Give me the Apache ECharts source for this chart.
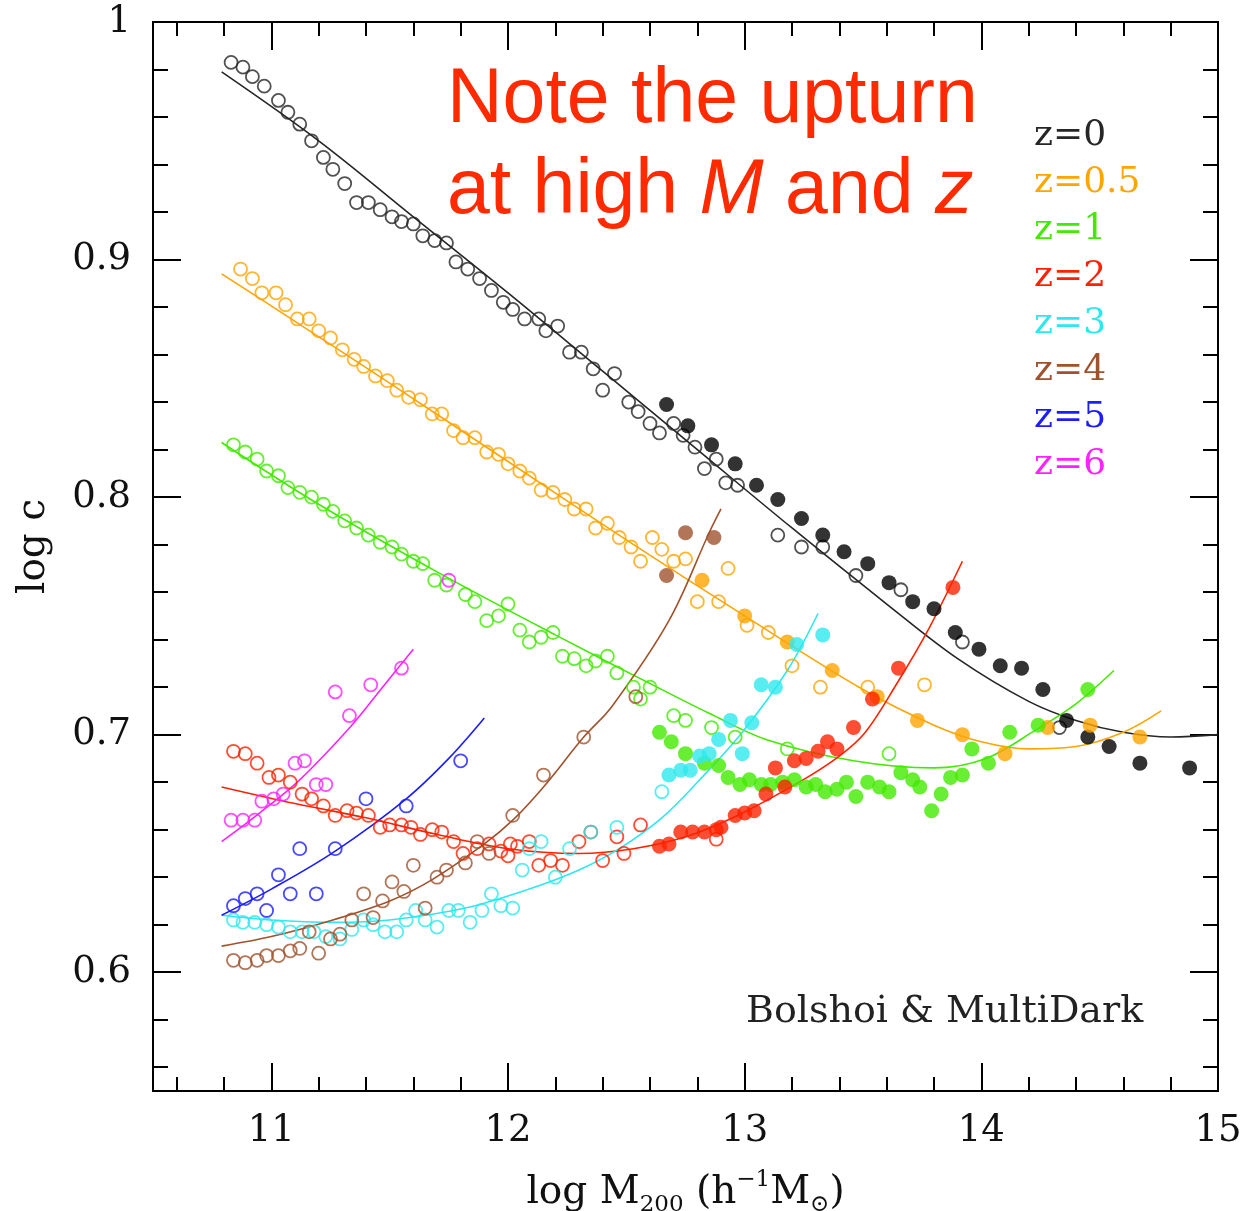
<!DOCTYPE html>
<html>
<head>
<meta charset="utf-8">
<script src="https://cdn.jsdelivr.net/npm/echarts@6/dist/echarts.min.js"></script>
<style>
  html, body { margin: 0; padding: 0; background: #ffffff; }
  #chart { width: 1250px; height: 1211px; }
</style>
</head>
<body>
<div id="chart"></div>
<script>
// Concentration–mass relation, log c versus log M200, for redshifts z = 0 ... 6.
// Open circles: Bolshoi haloes; filled circles: MultiDark haloes; lines: fits.

// ---- axis ticks ----
const xTickValues = [11, 12, 13, 14, 15];
const xTickLabels = ['11', '12', '13', '14', '15'];
const yTickValues = [0.6, 0.7, 0.8, 0.9, 1.0];
const yTickLabels = ['0.6', '0.7', '0.8', '0.9', '1'];

// ---- z = 0 ----
const z0Open = [[10.83,0.983],[10.88,0.981],[10.92,0.977],[10.97,0.973],[11.03,0.967],[11.07,0.962],[11.12,0.957],[11.17,0.950],[11.22,0.943],[11.26,0.938],[11.31,0.932],[11.36,0.924],[11.41,0.924],[11.46,0.921],[11.51,0.918],[11.55,0.916],[11.60,0.915],[11.64,0.910],[11.69,0.908],[11.74,0.907],[11.78,0.899],[11.83,0.896],[11.88,0.892],[11.93,0.887],[11.98,0.882],[12.02,0.879],[12.07,0.875],[12.13,0.875],[12.16,0.870],[12.21,0.872],[12.26,0.861],[12.31,0.861],[12.36,0.854],[12.40,0.845],[12.45,0.852],[12.51,0.840],[12.55,0.836],[12.60,0.831],[12.64,0.827],[12.70,0.831],[12.74,0.826],[12.79,0.821],[12.83,0.812],[12.88,0.816],[12.92,0.806],[12.97,0.805],[13.14,0.784],[13.24,0.779],[13.33,0.779],[13.47,0.767],[13.66,0.761],[13.92,0.739],[14.33,0.703]];
const z0Filled = [[12.67,0.839],[12.76,0.830],[12.86,0.822],[12.96,0.814],[13.05,0.805],[13.14,0.799],[13.24,0.791],[13.33,0.784],[13.42,0.777],[13.52,0.772],[13.61,0.764],[13.71,0.756],[13.80,0.753],[13.89,0.743],[13.99,0.736],[14.08,0.729],[14.17,0.728],[14.26,0.719],[14.36,0.706],[14.45,0.699],[14.54,0.695],[14.67,0.688],[14.88,0.686]];
const z0Fit = [[10.79,0.979],[11.2,0.950],[11.6,0.918],[12.0,0.886],[12.4,0.853],[12.8,0.820],[13.2,0.787],[13.6,0.755],[13.9,0.732],[14.2,0.714],[14.4,0.706],[14.6,0.701],[14.8,0.699],[15.0,0.700]];

// ---- z = 0.5 ----
const z05Open = [[10.87,0.896],[10.92,0.892],[10.96,0.886],[11.02,0.886],[11.06,0.881],[11.11,0.875],[11.16,0.875],[11.20,0.870],[11.25,0.867],[11.30,0.862],[11.35,0.858],[11.39,0.855],[11.44,0.851],[11.49,0.849],[11.53,0.845],[11.58,0.842],[11.63,0.841],[11.68,0.835],[11.72,0.835],[11.77,0.828],[11.81,0.825],[11.86,0.825],[11.91,0.819],[11.96,0.818],[12.00,0.814],[12.05,0.811],[12.09,0.808],[12.14,0.803],[12.19,0.802],[12.24,0.799],[12.28,0.795],[12.33,0.795],[12.37,0.787],[12.42,0.789],[12.47,0.783],[12.52,0.779],[12.56,0.773],[12.61,0.783],[12.65,0.778],[12.70,0.773],[12.75,0.774],[12.80,0.756],[12.89,0.756],[12.93,0.770],[13.01,0.746],[13.10,0.743],[13.20,0.729],[13.32,0.720],[13.52,0.720],[13.76,0.721]];
const z05Filled = [[12.82,0.765],[13.00,0.750],[13.18,0.739],[13.37,0.727],[13.56,0.716],[13.73,0.706],[13.92,0.700],[14.10,0.692],[14.28,0.703],[14.46,0.704],[14.67,0.699]];
const z05Fit = [[10.79,0.894],[11.1,0.874],[11.5,0.848],[12.0,0.815],[12.5,0.782],[13.0,0.750],[13.5,0.719],[13.8,0.704],[14.0,0.697],[14.2,0.694],[14.4,0.695],[14.6,0.701],[14.76,0.710]];

// ---- z = 1 ----
const z1Open = [[10.84,0.822],[10.89,0.819],[10.94,0.816],[10.98,0.811],[11.03,0.809],[11.07,0.804],[11.12,0.802],[11.17,0.800],[11.22,0.797],[11.26,0.794],[11.31,0.790],[11.36,0.787],[11.41,0.784],[11.46,0.781],[11.51,0.779],[11.55,0.776],[11.60,0.773],[11.64,0.772],[11.69,0.765],[11.74,0.763],[11.82,0.759],[11.86,0.756],[11.91,0.748],[11.96,0.750],[12.00,0.755],[12.05,0.744],[12.09,0.739],[12.14,0.741],[12.19,0.743],[12.23,0.733],[12.28,0.732],[12.33,0.729],[12.37,0.731],[12.42,0.733],[12.46,0.726],[12.53,0.720],[12.56,0.715],[12.60,0.720],[12.70,0.708],[12.75,0.706],[12.86,0.703],[12.96,0.699],[13.18,0.694],[13.61,0.692]];
const z1Filled = [[12.64,0.701],[12.69,0.697],[12.75,0.692],[12.83,0.688],[12.89,0.687],[12.93,0.682],[12.98,0.679],[13.02,0.681],[13.07,0.679],[13.11,0.679],[13.16,0.680],[13.21,0.681],[13.26,0.678],[13.30,0.679],[13.34,0.676],[13.39,0.677],[13.43,0.680],[13.47,0.674],[13.52,0.680],[13.57,0.678],[13.61,0.676],[13.66,0.684],[13.71,0.681],[13.74,0.678],[13.79,0.668],[13.83,0.675],[13.87,0.682],[13.92,0.683],[13.96,0.694],[14.03,0.688],[14.12,0.701],[14.24,0.704],[14.45,0.719]];
const z1Fit = [[10.79,0.823],[11.2,0.797],[11.71,0.768],[12.2,0.742],[12.63,0.720],[12.85,0.709],[13.09,0.698],[13.46,0.689],[13.8,0.686],[14.02,0.690],[14.23,0.702],[14.4,0.713],[14.56,0.727]];

// ---- z = 2 ----
const z2Open = [[10.84,0.693],[10.89,0.692],[10.94,0.688],[10.99,0.682],[11.03,0.683],[11.08,0.680],[11.13,0.675],[11.17,0.673],[11.22,0.670],[11.27,0.666],[11.32,0.668],[11.36,0.667],[11.41,0.666],[11.46,0.661],[11.50,0.662],[11.55,0.662],[11.59,0.661],[11.63,0.658],[11.68,0.660],[11.72,0.659],[11.77,0.655],[11.81,0.650],[11.87,0.652],[11.92,0.654],[11.97,0.651],[12.00,0.649],[12.01,0.654],[12.04,0.653],[12.09,0.655],[12.13,0.645],[12.18,0.647],[12.23,0.645],[12.30,0.655],[12.35,0.659],[12.40,0.647],[12.46,0.657],[12.49,0.650],[12.56,0.662],[12.88,0.656]];
const z2Filled = [[12.64,0.653],[12.68,0.654],[12.73,0.659],[12.78,0.659],[12.83,0.659],[12.88,0.660],[12.90,0.661],[12.96,0.666],[13.00,0.667],[13.04,0.668],[13.09,0.675],[13.13,0.686],[13.17,0.678],[13.21,0.689],[13.26,0.690],[13.31,0.693],[13.35,0.697],[13.39,0.694],[13.46,0.703],[13.54,0.715],[13.65,0.728],[13.88,0.762]];
const z2Fit = [[10.79,0.678],[11.1,0.671],[11.4,0.665],[11.7,0.658],[12.0,0.652],[12.3,0.650],[12.53,0.652],[12.75,0.657],[12.97,0.666],[13.23,0.680],[13.4,0.691],[13.51,0.701],[13.64,0.721],[13.78,0.745],[13.92,0.773]];

// ---- z = 3 ----
const z3Open = [[10.84,0.622],[10.88,0.621],[10.93,0.621],[10.98,0.620],[11.03,0.619],[11.08,0.617],[11.13,0.617],[11.18,0.617],[11.23,0.615],[11.29,0.614],[11.34,0.618],[11.39,0.622],[11.43,0.620],[11.48,0.617],[11.53,0.617],[11.57,0.622],[11.61,0.626],[11.65,0.622],[11.70,0.619],[11.75,0.626],[11.79,0.626],[11.84,0.621],[11.89,0.626],[11.93,0.633],[11.97,0.628],[12.02,0.627],[12.06,0.643],[12.09,0.652],[12.14,0.655],[12.20,0.640],[12.26,0.652],[12.35,0.659],[12.46,0.661],[12.65,0.676]];
const z3Filled = [[12.68,0.683],[12.73,0.685],[12.77,0.685],[12.81,0.691],[12.85,0.692],[12.89,0.698],[12.94,0.706],[12.99,0.692],[13.03,0.705],[13.07,0.721],[13.13,0.720],[13.22,0.738],[13.33,0.742]];
const z3Fit = [[10.79,0.624],[11.0,0.622],[11.26,0.621],[11.5,0.622],[11.82,0.627],[12.09,0.635],[12.3,0.643],[12.47,0.652],[12.65,0.665],[12.81,0.681],[12.99,0.701],[13.18,0.727],[13.31,0.751]];

// ---- z = 4 ----
const z4Open = [[10.84,0.605],[10.89,0.604],[10.94,0.605],[10.98,0.607],[11.03,0.607],[11.08,0.609],[11.12,0.610],[11.16,0.617],[11.20,0.608],[11.25,0.614],[11.29,0.616],[11.34,0.622],[11.39,0.633],[11.43,0.623],[11.47,0.630],[11.51,0.638],[11.56,0.634],[11.60,0.645],[11.65,0.627],[11.70,0.640],[11.74,0.643],[11.82,0.646],[11.87,0.655],[11.92,0.650],[12.02,0.666],[12.15,0.683],[12.32,0.699],[12.54,0.716]];
const z4Filled = [[12.67,0.767],[12.75,0.785],[12.87,0.783]];
const z4Fit = [[10.79,0.611],[11.0,0.615],[11.26,0.622],[11.5,0.630],[11.68,0.639],[11.9,0.654],[12.02,0.664],[12.15,0.678],[12.32,0.699],[12.44,0.712],[12.68,0.748],[12.85,0.785],[12.9,0.795]];

// ---- z = 5 ----
const z5Open = [[10.84,0.628],[10.89,0.631],[10.94,0.633],[10.98,0.626],[11.03,0.641],[11.08,0.633],[11.12,0.652],[11.19,0.633],[11.27,0.652],[11.40,0.673],[11.57,0.670],[11.80,0.689]];
const z5Fit = [[10.79,0.624],[11.0,0.635],[11.27,0.651],[11.57,0.673],[11.75,0.690],[11.9,0.707]];

// ---- z = 6 ----
const z6Open = [[10.83,0.664],[10.88,0.664],[10.93,0.664],[10.96,0.672],[11.01,0.673],[11.05,0.675],[11.10,0.688],[11.14,0.689],[11.19,0.679],[11.23,0.679],[11.27,0.718],[11.33,0.708],[11.42,0.721],[11.55,0.728],[11.75,0.765]];
const z6Fit = [[10.79,0.655],[10.95,0.667],[11.12,0.681],[11.34,0.704],[11.47,0.720],[11.60,0.736]];

// ---- styling ----
const SERIF = '"DejaVu Serif", "Liberation Serif", serif';
const SANS = '"Liberation Sans", Arial, sans-serif';
const COLORS = {
  'z=0':   '#262626',
  'z=0.5': '#ffa500',
  'z=1':   '#42ea00',
  'z=2':   '#ff2200',
  'z=3':   '#2ee8ee',
  'z=4':   '#a0522d',
  'z=5':   '#1c1cff',
  'z=6':   '#ff22ff'
};

function openPts(name, data) {
  return {
    name, type: 'scatter', data, symbol: 'circle', symbolSize: 13, z: 3,
    itemStyle: { color: 'rgba(255,255,255,0)', borderColor: COLORS[name], borderWidth: 1.8 }
  };
}
function filledPts(name, data, color) {
  return {
    name, type: 'scatter', data, symbol: 'circle', symbolSize: 15, z: 4,
    itemStyle: { color: color || COLORS[name] }
  };
}
function fitLine(name, data) {
  return {
    name, type: 'line', data, smooth: 0.35, showSymbol: false, z: 2,
    lineStyle: { color: COLORS[name], width: 1.6 }
  };
}

// Minor tick positions between the labelled values
function minorTicks(min, max, step, skipStep) {
  const out = [];
  for (let v = min; v <= max + 1e-9; v += step) {
    const r = Math.round(v * 1000) / 1000;
    const q = r / skipStep;
    if (Math.abs(q - Math.round(q)) > 1e-6) out.push(r);
  }
  return out;
}
const xMinor = minorTicks(10.6, 14.8, 0.2, 1);
const yMinor = minorTicks(0.56, 0.98, 0.02, 0.1);
const xMajor = [11, 12, 13, 14];
const yMajor = [0.6, 0.7, 0.8, 0.9];

function pick(values, labels, v) {
  let best = 0;
  values.forEach((t, i) => { if (Math.abs(t - v) < Math.abs(values[best] - v)) best = i; });
  return labels[best];
}

const frame = { show: true, onZero: false, lineStyle: { color: '#000', width: 2 } };
const tickStyle = { color: '#000', width: 2 };

function xAx(position, ticks, len, withLine) {
  return {
    type: 'value', position, min: 10.5, max: 15,
    axisLine: withLine ? frame : { show: false },
    axisTick: { show: true, inside: true, length: len, customValues: ticks, lineStyle: tickStyle },
    axisLabel: { show: false },
    splitLine: { show: false }
  };
}
function yAx(position, ticks, len, withLine) {
  return {
    type: 'value', position, min: 0.55, max: 1.0,
    axisLine: withLine ? frame : { show: false },
    axisTick: { show: true, inside: true, length: len, customValues: ticks, lineStyle: tickStyle },
    axisLabel: { show: false },
    splitLine: { show: false }
  };
}

const xBottom = xAx('bottom', xMajor, 28, true);
xBottom.axisLabel = {
  show: true, customValues: xTickValues, margin: 22,
  formatter: v => pick(xTickValues, xTickLabels, v),
  fontFamily: SERIF, fontSize: 37, color: '#111'
};
xBottom.name = 'log M{sub|200} (h{sup|−1}M{sub|⊙})';
xBottom.nameLocation = 'middle';
xBottom.nameGap = 78;
xBottom.nameTextStyle = {
  fontFamily: SERIF, fontSize: 39, color: '#111', lineHeight: 48,
  rich: {
    sub: { fontFamily: SERIF, fontSize: 23, lineHeight: 22, verticalAlign: 'bottom', color: '#111' },
    sup: { fontFamily: SERIF, fontSize: 23, lineHeight: 22, verticalAlign: 'top', color: '#111' }
  }
};

const yLeft = yAx('left', yMajor, 28, true);
yLeft.axisLabel = {
  show: true, customValues: yTickValues, margin: 22,
  formatter: v => pick(yTickValues, yTickLabels, v),
  fontFamily: SERIF, fontSize: 37, color: '#111'
};
yLeft.name = 'log c';
yLeft.nameLocation = 'middle';
yLeft.nameGap = 100;
yLeft.nameTextStyle = { fontFamily: SERIF, fontSize: 39, color: '#111', padding: [0, 0, 0, 20] };

const legendNames = ['z=0', 'z=0.5', 'z=1', 'z=2', 'z=3', 'z=4', 'z=5', 'z=6'];

const option = {
  animation: false,
  backgroundColor: '#ffffff',
  grid: { left: 153, right: 32, top: 22, bottom: 120, containLabel: false, outerBoundsMode: 'none' },
  xAxis: [
    xBottom,
    xAx('bottom', xMinor, 14, false),
    xAx('top', xMajor, 28, true),
    xAx('top', xMinor, 14, false)
  ],
  yAxis: [
    yLeft,
    yAx('left', yMinor, 15, false),
    yAx('right', yMajor, 28, true),
    yAx('right', yMinor, 15, false)
  ],
  legend: {
    orient: 'vertical', left: 1024, top: 113, itemGap: 11,
    itemWidth: 0, itemHeight: 0, selectedMode: false,
    data: legendNames.map(n => ({ name: n, icon: 'none', textStyle: { color: COLORS[n] } })),
    textStyle: { fontFamily: SERIF, fontSize: 36, lineHeight: 36 }
  },
  graphic: [
    { type: 'text', left: 447, top: 62, silent: true,
      style: { text: 'Note the upturn', font: '77px ' + SANS, fill: '#ff2a00' } },
    { type: 'text', left: 447, top: 153, silent: true,
      style: {
        text: 'at high {i|M} and {i|z}', font: '77px ' + SANS, fill: '#ff2a00',
        rich: { i: { fontStyle: 'italic', fontSize: 77, fontFamily: SANS, fill: '#ff2a00' } }
      } },
    { type: 'text', left: 746, top: 993, silent: true,
      style: { text: 'Bolshoi & MultiDark', font: '38px ' + SERIF, fill: '#222' } }
  ],
  series: [
    fitLine('z=0', z0Fit), fitLine('z=0.5', z05Fit), fitLine('z=1', z1Fit), fitLine('z=2', z2Fit),
    fitLine('z=3', z3Fit), fitLine('z=4', z4Fit), fitLine('z=5', z5Fit), fitLine('z=6', z6Fit),
    openPts('z=0', z0Open), openPts('z=0.5', z05Open), openPts('z=1', z1Open), openPts('z=2', z2Open),
    openPts('z=3', z3Open), openPts('z=4', z4Open), openPts('z=5', z5Open), openPts('z=6', z6Open),
    filledPts('z=0', z0Filled, '#000000'), filledPts('z=0.5', z05Filled), filledPts('z=1', z1Filled),
    filledPts('z=2', z2Filled), filledPts('z=3', z3Filled), filledPts('z=4', z4Filled)
  ]
};

const chart = echarts.init(document.getElementById('chart'), null, { renderer: 'canvas' });
chart.setOption(option);
</script>
</body>
</html>
